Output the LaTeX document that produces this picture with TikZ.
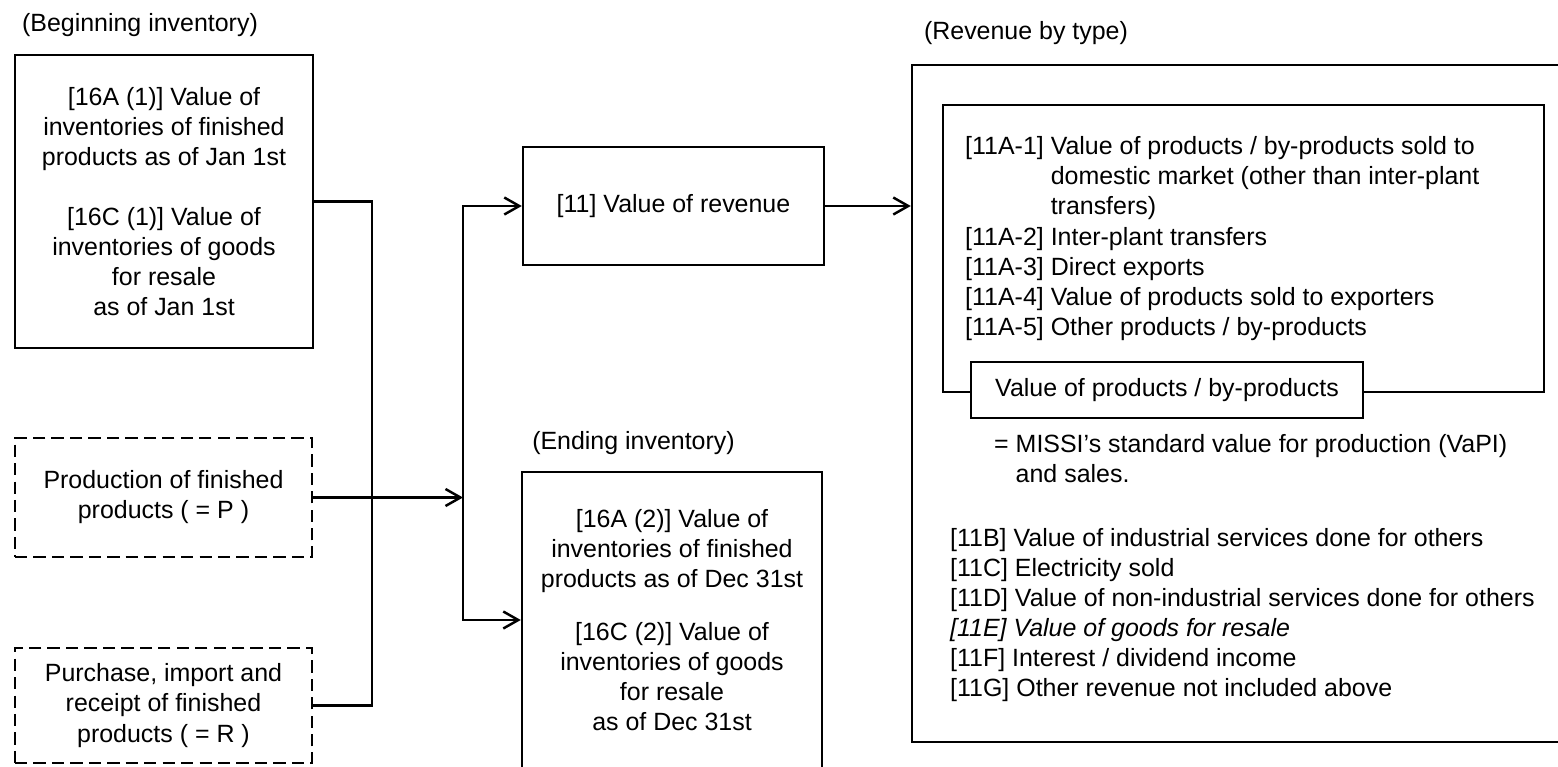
\documentclass[tikz,border=0pt]{standalone}
\usepackage{fontspec}
\setmainfont{Liberation Sans}
\usetikzlibrary{arrows.meta, positioning}

\begin{document}
\begin{tikzpicture}[
	font = \fontsize{14.2pt}{17.1pt}\selectfont,
	line width = 1.4pt,
	solidbox/.style = {draw, align = center, inner sep = 0pt},
	planbox/.style = {draw, dash pattern = on 7pt off 3.5pt, align = center, inner sep = 0pt},
	flow/.style = {-{Straight Barb[length=3mm, width=3.4mm]}},
	]
	\useasboundingbox (0,0) rectangle (31.16,-15.32);
	\clip (0,0) rectangle (31.16,-15.32);
	\node[anchor = west] at (0.3, -0.5) (beglabel) {(Beginning inventory)};
	\node[solidbox, minimum width = 5.96cm, minimum height = 5.86cm] at (3.28, -4.03) (begin) {{[16A (1)]} Value of\\inventories of finished\\products as of Jan 1st\\[17.1pt]{[16C (1)]} Value of\\inventories of goods\\for resale\\as of Jan 1st};
	\node[planbox, minimum width = 5.94cm, minimum height = 2.38cm] at (3.27, -9.95) (prod) {Production of finished\\products ( = P )};
	\node[planbox, minimum width = 5.94cm, minimum height = 2.3cm] at (3.27, -14.11) (purch) {Purchase, import and\\receipt of finished\\products ( = R )};
	\coordinate (split) at (9.26, -9.95);
	\node[solidbox, minimum width = 6.02cm, minimum height = 2.36cm] at (13.47, -4.12) (rev) {[11] Value of revenue};
	\node at (12.67, -8.86) (endlabel) {(Ending inventory)};
	\node[solidbox, minimum width = 6.0cm, minimum height = 5.92cm] at (13.44, -12.4) (endinv) {{[16A (2)]} Value of\\inventories of finished\\products as of Dec 31st\\[13pt]{[16C (2)]} Value of\\inventories of goods\\for resale\\as of Dec 31st};
	\node at (20.52, -0.66) (typelabel) {(Revenue by type)};
	\node[draw, minimum width = 13.76cm, minimum height = 13.54cm] at (25.12, -8.07) (types) {};
	\node[draw, minimum width = 12.02cm, minimum height = 5.74cm] at (24.87, -4.97) (pvbox) {};
	\node[anchor = west, inner sep = 0pt] at (19.28, -4.78) (alist) {\begin{tabular}{@{}l@{ }l@{}}
		{[11A-1]} & Value of products / by-products sold to\\
		& domestic market (other than inter-plant\\
		& transfers)\\
		{[11A-2]} & Inter-plant transfers\\
		{[11A-3]} & Direct exports\\
		{[11A-4]} & Value of products sold to exporters\\
		{[11A-5]} & Other products / by-products
	\end{tabular}};
	\node[draw, fill = white, minimum width = 7.84cm, minimum height = 1.12cm] at (23.34, -7.8) (pvlabel) {Value of products / by-products};
	\node[anchor = west, inner sep = 0pt] at (19.86, -9.23) (missi) {\begin{tabular}{@{}l@{ }l@{}}
		= & MISSI's standard value for production (VaPI)\\
		& and sales.
	\end{tabular}};
	\node[anchor = west, align = left, inner sep = 0pt] at (18.98, -12.3) (blist) {{[11B]} Value of industrial services done for others\\{[11C]} Electricity sold\\{[11D]} Value of non-industrial services done for others\\\textit{[11E] Value of goods for resale}\\{[11F]} Interest / dividend income\\{[11G]} Other revenue not included above};
	\draw (begin.east) -- ++(1.16, 0) |- (purch.east);
	\draw[flow] (prod.east) -- (split);
	\draw[flow] (split) |- (rev.west);
	\draw[flow] (split) |- (endinv.west);
	\draw[flow] (rev.east) -- (rev.east -| types.west);
\end{tikzpicture}
\end{document}
